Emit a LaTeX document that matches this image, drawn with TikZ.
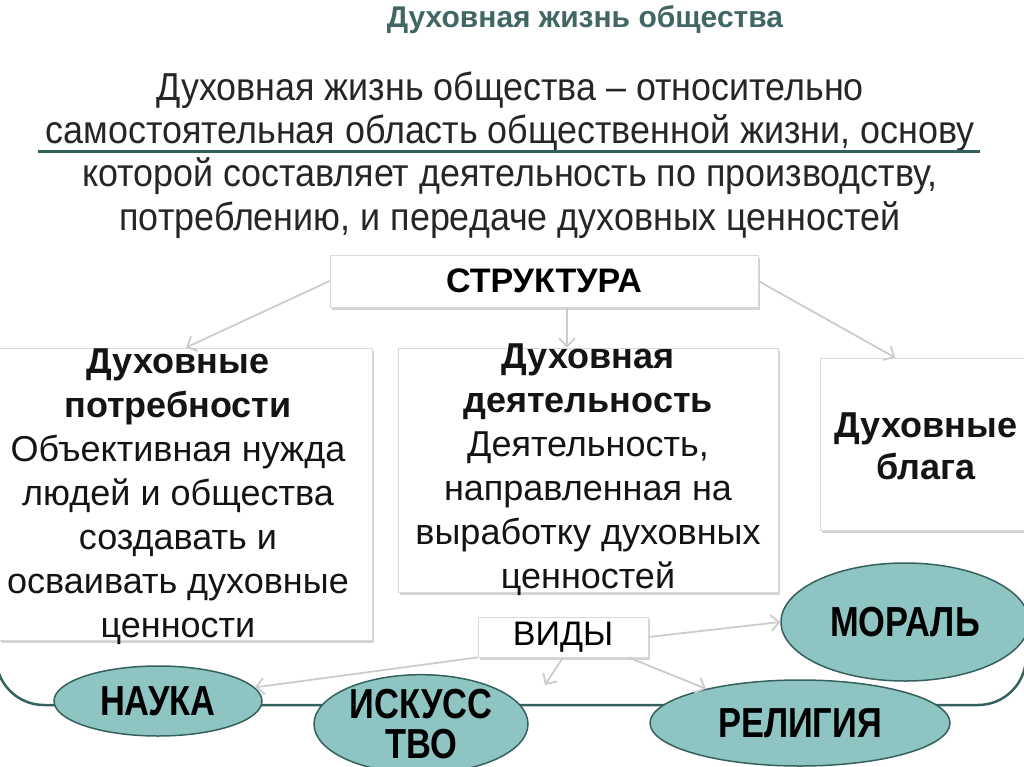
\documentclass[tikz,border=0pt]{standalone}
\usepackage{fontspec}
\setmainfont{Liberation Sans}
\newfontfamily\narrowfont[FakeStretch=0.82]{Liberation Sans}
\newfontfamily\slimfont[FakeStretch=0.92]{Liberation Sans}
\usepackage{tikz}
\usetikzlibrary{arrows.meta,positioning,shapes.geometric,shadows}

\definecolor{tealdark}{HTML}{35615D}
\definecolor{tealfill}{HTML}{8EC5C3}
\definecolor{titlegray}{HTML}{416663}
\definecolor{textgray}{HTML}{262626}

\begin{document}
\begin{tikzpicture}[x=1pt, y=-1pt,
    frame/.style={draw=tealdark, line width=2.5pt, rounded corners=48pt},
    card/.style={draw=black!15, fill=white, line width=0.8pt, drop shadow={shadow xshift=1.5pt, shadow yshift=-2.5pt, opacity=0.35}},
    cardtxt/.style={align=center, inner sep=0pt, text=black!92, font=\fontsize{36}{44}\selectfont},
    oval/.style={ellipse, draw=tealdark, line width=1.5pt, fill=tealfill, inner sep=0pt, align=center, font=\narrowfont\bfseries\fontsize{42}{40}\selectfont},
    arr/.style={-{Straight Barb[length=8pt,width=16pt]}, line width=1.8pt, draw=black!20},
]
\useasboundingbox (0,0) rectangle (1024,767);
\draw[frame] (-4,-60) rectangle (1026,705);

\node[font=\bfseries\fontsize{30}{30}\selectfont, text=titlegray] (title) at (585,20) {Духовная жизнь общества};
\node[align=center, text=textgray, font=\slimfont\fontsize{39}{43.3}\selectfont] (def) at (510,155)
  {Духовная жизнь общества – относительно\\
   самостоятельная область общественной жизни, основу\\
   которой составляет деятельность по производству,\\
   потреблению, и передаче духовных ценностей};
\draw[tealdark, line width=3pt] (38,152) -- (980,152);

\node[card, minimum width=428pt, minimum height=52pt, inner sep=0pt, font=\bfseries\fontsize{34}{34}\selectfont] (str) at (544,281) {СТРУКТУРА};

\node[card, minimum width=373pt, minimum height=292pt] (needs) at (186,494) {};
\node[cardtxt] (needstxt) at (178,497)
  {\textbf{Духовные}\\\textbf{потребности}\\Объективная нужда\\людей и общества\\создавать и\\осваивать духовные\\ценности};

\node[card, minimum width=380pt, minimum height=244pt] (act) at (588,470) {};
\node[cardtxt] (acttxt) at (act.center)
  {\textbf{Духовная}\\\textbf{деятельность}\\Деятельность,\\направленная на\\выработку духовных\\ценностей};

\node[card, minimum width=215pt, minimum height=172pt] (goods) at (928,444) {};
\node[cardtxt, font=\bfseries\fontsize{36}{42}\selectfont] (goodstxt) at (926,446) {Духовные\\блага};

\coordinate (mid) at (567,0);
\draw[arr] (str.west) -- (needs.north);
\draw[arr] (str.south -| mid) -- (act.north -| mid);
\draw[arr] (str.east) -- ([xshift=-33pt]goods.north);

\node[card, minimum width=170pt, minimum height=40pt, inner sep=0pt, font=\fontsize{34}{34}\selectfont] (vid) at (563,637) {ВИДЫ};

\node[oval, minimum width=248pt, minimum height=118pt] (moral) at (905,622) {МОРАЛЬ};
\node[oval, minimum width=208pt, minimum height=70pt] (nauka) at (158,701) {НАУКА};
\node[oval, minimum width=214pt, minimum height=82pt] (art) at (421,724) {ИСКУСС\\ТВО};
\node[oval, minimum width=300pt, minimum height=86pt] (relig) at (800,723) {РЕЛИГИЯ};

\coordinate (artin) at (545,685);
\draw[arr] (vid.south west) -- (nauka.8);
\draw[arr] (vid.south) -- (artin);
\draw[arr] ([xshift=-20pt]vid.south east) -- (relig.160);
\draw[arr] (vid.east) -- (moral.west);
\end{tikzpicture}
\end{document}
